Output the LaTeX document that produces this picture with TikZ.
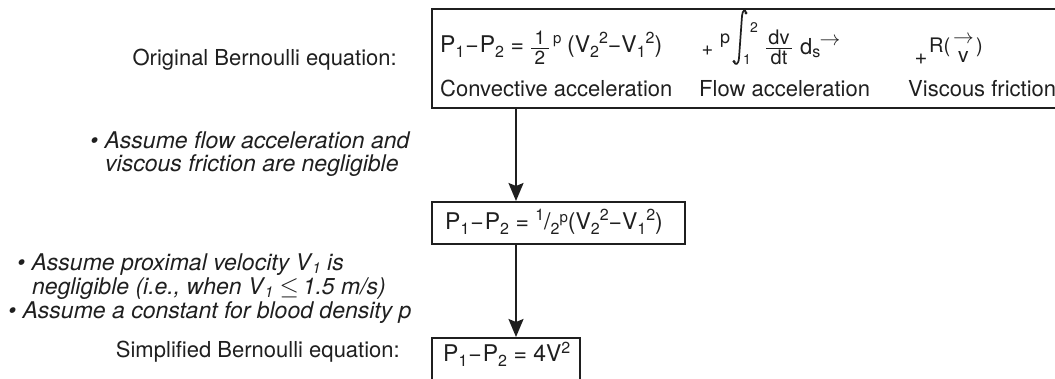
\documentclass[tikz,border=0pt]{standalone}
\usepackage{amsmath}
\usepackage{fontspec}
\setmainfont{TeX Gyre Heros}
\usetikzlibrary{arrows.meta}
\definecolor{ink}{gray}{0.12}
\newcommand\mysub[1]{\raisebox{-5pt}{\fontsize{16}{16}\selectfont #1}}
\newcommand\mysup[1]{\raisebox{9pt}{\fontsize{16}{16}\selectfont #1}}
\newcommand\notesub[1]{\kern1.5pt\raisebox{-3pt}{\fontsize{15}{15}\selectfont #1}}
\tikzset{
  box/.style={draw=ink, line width=1.6pt, inner sep=0pt},
  lbl/.style={font=\fontsize{22}{26}\selectfont, text=ink, inner sep=0pt},
  eq/.style={font=\fontsize{23}{27}\selectfont, text=ink, inner sep=0pt},
  small/.style={font=\fontsize{19}{20}\selectfont, text=ink, inner sep=0pt},
  tiny/.style={font=\fontsize{14}{15}\selectfont, text=ink, inner sep=0pt},
  note/.style={font=\fontsize{23}{27}\selectfont\itshape, text=ink, inner sep=0pt},
  bar/.style={draw=ink, line width=1pt},
  intsign/.style={draw=ink, line width=1.7pt, line cap=round},
  arr/.style={draw=ink, line width=2pt, -{Stealth[length=18pt,width=15pt,inset=3pt]}}
}
\begin{document}
\begin{tikzpicture}[x=1pt,y=-1pt]
\useasboundingbox (0,0) rectangle (1055,379);
% boxes
\node[box, anchor=north west, minimum width=660pt, minimum height=99pt] (b1) at (431,8) {};
\node[box, anchor=north west, minimum width=253pt, minimum height=42pt] (b2) at (431,201) {};
\node[box, anchor=north west, minimum width=148pt, minimum height=70pt] (b3) at (431,337) {};
% connectors
\coordinate (ax) at (516,0);
\draw[arr] (b1.south -| ax) -- (b2.north -| ax);
\draw[arr] (b2.south -| ax) -- (b3.north -| ax);
% left labels
\node[lbl, anchor=base east] (orig) at (397,66) {Original Bernoulli equation:};
\node[lbl, anchor=base east] (simp) at (400,357) {Simplified Bernoulli equation:};
% notes
\node[note, anchor=base west] (n1a) at (90,149) {\textbullet\ Assume flow acceleration and};
\node[note, anchor=base west] (n1b) at (105,172) {viscous friction are negligible};
\node[note, anchor=base west] (n2a) at (17,271) {\textbullet\ Assume proximal velocity V\notesub{1} is};
\node[note, anchor=base west] (n2b) at (32,295) {negligible (i.e., when V\notesub{1} $\leq$\,1.5 m/s)};
\node[note, anchor=base west] (n3) at (8,319) {\textbullet\ Assume a constant for blood density p};
% top box: captions
\node[lbl, anchor=base west] (c1) at (440,97) {Convective acceleration};
\node[lbl, anchor=base west] (c2) at (699,97) {Flow acceleration};
\node[lbl, anchor=base west] (c3) at (908,97) {Viscous friction};
% top box: convective term
\node[eq, anchor=base west] (e1a) at (440,53) {P\mysub{1}\kern1pt−\kern1pt P\mysub{2} =};
\node[eq, font=\fontsize{19}{20}\selectfont, anchor=base] (f1n) at (540,45) {1};
\node[eq, font=\fontsize{19}{20}\selectfont, anchor=base] (f1d) at (540,65) {2};
\draw[bar] (531,48.5) -- (549,48.5);
\node[tiny, font=\fontsize{15}{16}\selectfont, anchor=base west] (p1) at (553,44) {p};
\node[eq, anchor=base west] (e1b) at (567,53) {(V\mysub{2}\mysup{2}−V\mysub{1}\mysup{2})};
% top box: flow term
\node[small, font=\fontsize{20}{20}\selectfont, anchor=center] (plus2) at (707.5,51) {+};
\node[small, font=\fontsize{18}{18}\selectfont, anchor=base west] (p2) at (720,44) {p};
\draw[intsign] (746,13) .. controls (745.5,9) and (742.5,9.5) .. (742,16)
  -- (739,58) .. controls (738.5,65) and (735,65.5) .. (734,61.5);
\fill[ink] (746,13) circle (1.6pt) (734,61.5) circle (1.6pt);
\node[tiny, anchor=base west] (ul) at (750,33) {2};
\node[tiny, anchor=base west] (ll) at (743,65) {1};
\node[small, font=\fontsize{20}{20}\selectfont, anchor=base] (f2n) at (779,45) {dv};
\node[small, font=\fontsize{20}{20}\selectfont, anchor=base] (f2d) at (779,65) {dt};
\draw[bar] (766,48.5) -- (792,48.5);
\node[eq, font=\fontsize{22}{24}\selectfont, anchor=base west] (ds) at (800,55) {d\raisebox{-3pt}{\fontsize{16}{16}\selectfont s}};
\node[eq, font=\fontsize{20}{20}\selectfont, anchor=center] (ar1) at (830,41.5) {$\rightarrow$};
% top box: viscous term
\node[eq, font=\fontsize{22}{22}\selectfont, anchor=center] (plus3) at (921,59) {+};
\node[small, font=\fontsize{20}{20}\selectfont, anchor=base west] (R) at (929,53) {R(};
\node[eq, font=\fontsize{21}{22}\selectfont, anchor=base west] (v) at (958,63) {v};
\node[eq, font=\fontsize{20}{20}\selectfont, anchor=center] (ar2) at (963.5,39.5) {$\rightarrow$};
\node[small, font=\fontsize{20}{20}\selectfont, anchor=base west] (Rc) at (976,53) {)};
% middle box content
\node[eq, anchor=base west] (e4) at (445,230) {P\mysub{1}\kern1pt−\kern1pt P\mysub{2} = \mysup{1}/\mysub{2}\raisebox{7pt}{\fontsize{15}{15}\selectfont p}(V\mysub{2}\mysup{2}−V\mysub{1}\mysup{2})};
% bottom box content
\node[eq, anchor=base west] (e5) at (443,362) {P\mysub{1}\kern1pt−\kern1pt P\mysub{2} = 4V\mysup{2}};
\end{tikzpicture}
\end{document}
